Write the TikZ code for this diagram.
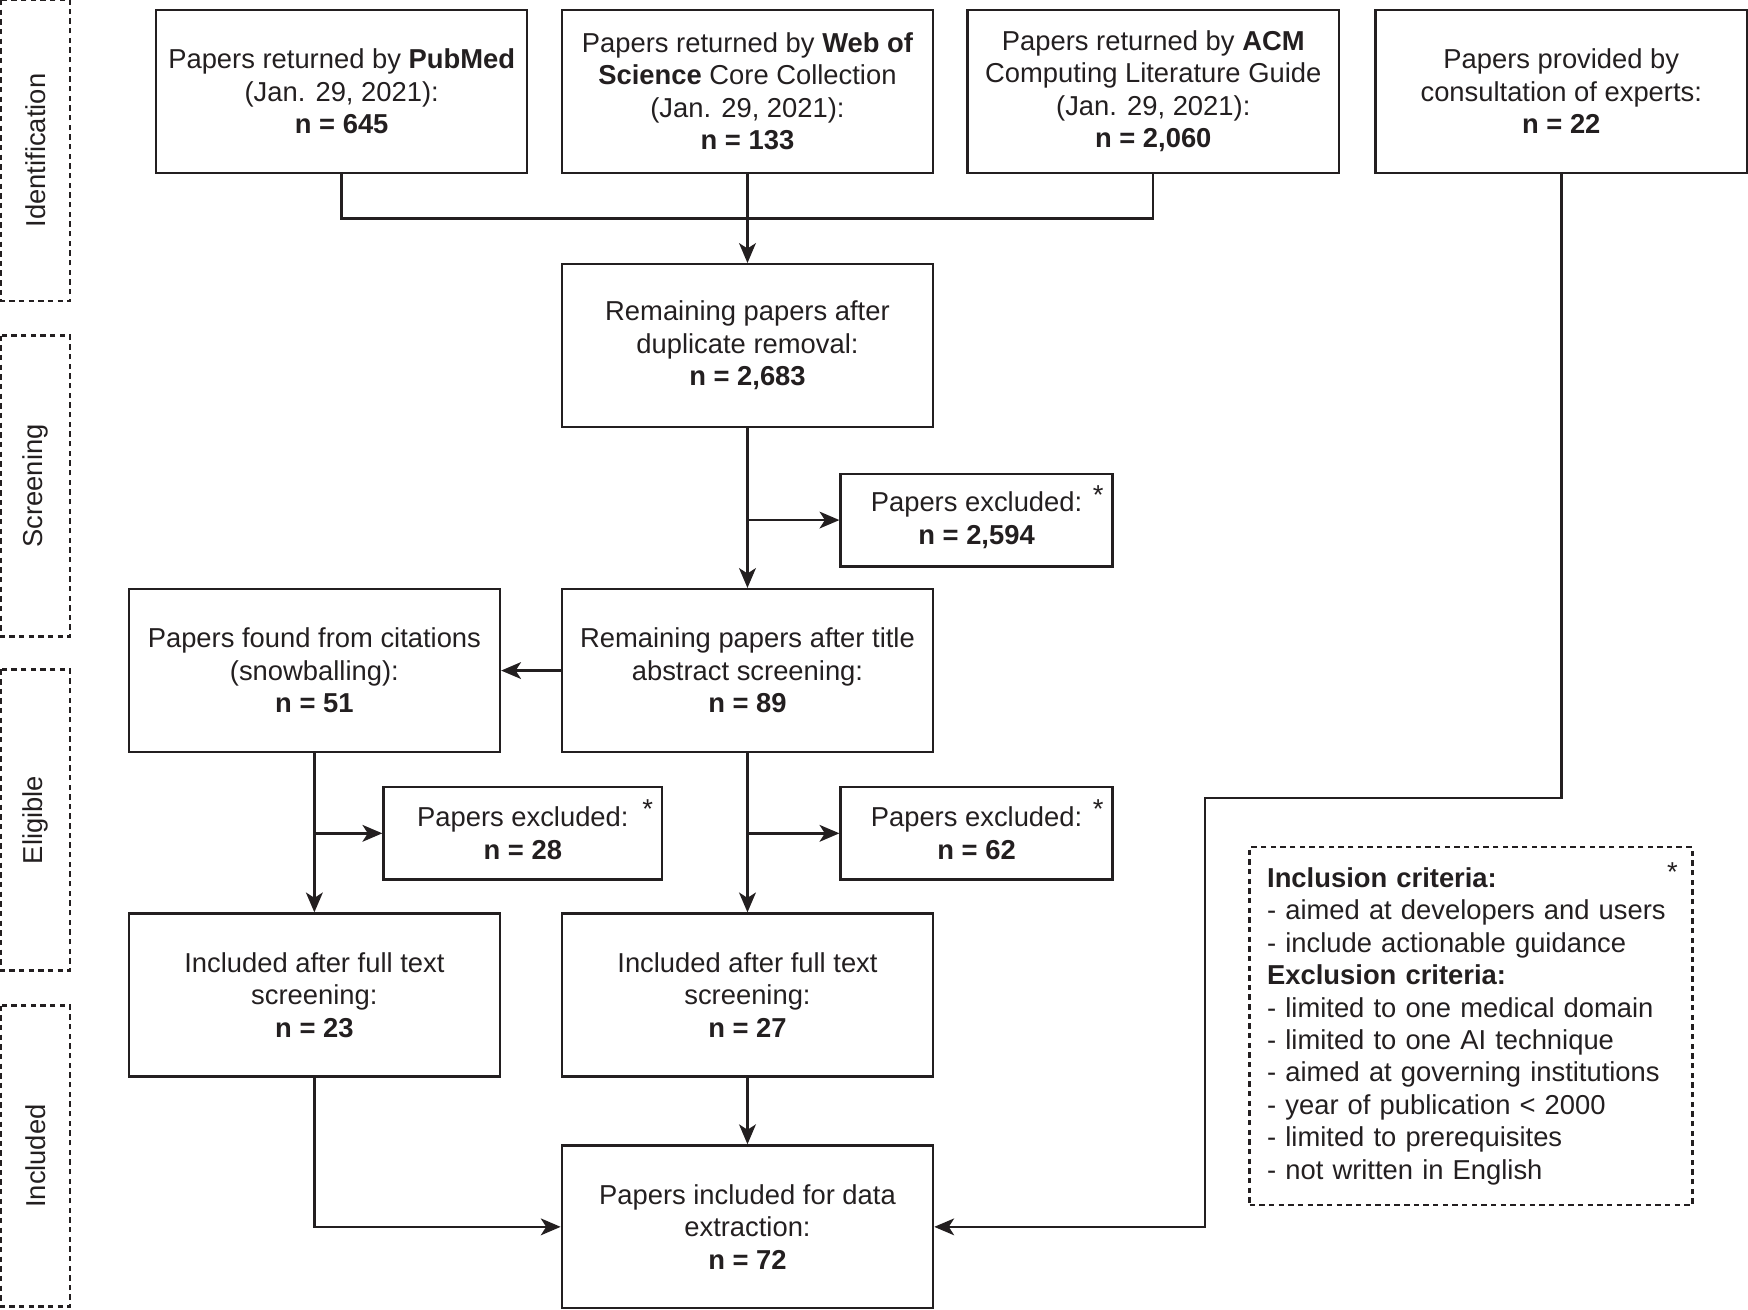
\documentclass[tikz,border=0pt]{standalone}
\usepackage{fontspec}
\setmainfont{Liberation Sans}
\usetikzlibrary{arrows.meta}
\definecolor{ink}{RGB}{35,31,32}

\begin{document}
\begin{tikzpicture}[x=0.0146cm,y=-0.0146cm,
  every node/.style={font=\fontsize{10.2}{12.1}\selectfont,text=ink},
  box/.style={draw=ink,line width=0.9pt,minimum width=4.862cm,minimum height=2.132cm,align=center,inner sep=0pt},
  exbox/.style={draw=ink,line width=0.9pt,minimum width=3.562cm,minimum height=1.212cm,align=center,inner sep=0pt},
  phase/.style={draw=ink,line width=0.9pt,dash pattern=on 2pt off 1.6pt,rotate=90,minimum width=3.942cm,minimum height=0.905cm,inner sep=0pt},
  crit/.style={draw=ink,line width=0.9pt,dash pattern=on 2pt off 1.6pt,minimum width=5.8cm,minimum height=4.69cm,text width=5.34cm,align=left,inner xsep=0.23cm},
  star/.style={anchor=base,inner sep=0pt},
  link/.style={draw=ink,line width=0.9pt},
  arr/.style={link,-{Stealth[length=2.6mm,width=2.2mm,inset=0.7mm]}}]

\useasboundingbox (0,0) rectangle (1568,1175);

\node [phase] (ident) at (32,135) {Identification};
\node [phase] (screen) at (32,436) {Screening};
\node [phase] (elig) at (32,735.5) {Eligible};
\node [phase] (incl) at (32,1037) {Included};

\node [box] (pubmed) at (306.5,82) {Papers returned by \textbf{PubMed}\\(Jan. 29, 2021):\\\textbf{n = 645}};
\node [box] (wos) at (670.5,82) {Papers returned by \textbf{Web of}\\\textbf{Science} Core Collection\\(Jan. 29, 2021):\\\textbf{n = 133}};
\node [box] (acm) at (1034.5,82) {Papers returned by \textbf{ACM}\\Computing Literature Guide\\(Jan. 29, 2021):\\\textbf{n = 2,060}};
\node [box] (experts) at (1400.5,82) {Papers provided by\\consultation of experts:\\\textbf{n = 22}};

\node [box] (dedup) at (670.5,310) {Remaining papers after\\duplicate removal:\\\textbf{n = 2,683}};
\node [exbox] (exa) at (876,466.5) {Papers excluded:\\\textbf{n = 2,594}};
\node [box] (title) at (670.5,601.5) {Remaining papers after title\\abstract screening:\\\textbf{n = 89}};
\node [box] (snow) at (282,601.5) {Papers found from citations\\(snowballing):\\\textbf{n = 51}};
\node [exbox,minimum width=3.65cm] (exb) at (469,747.5) {Papers excluded:\\\textbf{n = 28}};
\node [exbox] (exc) at (876,747.5) {Papers excluded:\\\textbf{n = 62}};
\node [box] (fulla) at (282,892.5) {Included after full text\\screening:\\\textbf{n = 23}};
\node [box] (fullb) at (670.5,892.5) {Included after full text\\screening:\\\textbf{n = 27}};
\node [box] (data) at (670.5,1100.5) {Papers included for data\\extraction:\\\textbf{n = 72}};

\node [star] (stara) at ([shift={(-14,29)}]exa.north east) {*};
\node [star] (starb) at ([shift={(-14,29)}]exb.north east) {*};
\node [star] (starc) at ([shift={(-14,29)}]exc.north east) {*};

\node [crit] (criteria) at (1319.5,920.5) {\textbf{Inclusion criteria:}\\- aimed at developers and users\\- include actionable guidance\\\textbf{Exclusion criteria:}\\- limited to one medical domain\\- limited to one AI technique\\- aimed at governing institutions\\- year of publication < 2000\\- limited to prerequisites\\- not written in English};
\node [star] (stard) at ([shift={(-19,32)}]criteria.north east) {*};

\coordinate (join) at (670.5,196);
\coordinate (bend) at (1081,716);

\draw [link] (pubmed.south) |- (join) -| (acm.south);
\draw [arr] (wos.south) -- (dedup.north);
\draw [arr] (dedup.south) -- (title.north);
\draw [arr] (dedup.south |- exa.west) -- (exa.west);
\draw [arr] (title.west) -- (snow.east);
\draw [arr] (snow.south) -- (fulla.north);
\draw [arr] (snow.south |- exb.west) -- (exb.west);
\draw [arr] (title.south) -- (fullb.north);
\draw [arr] (title.south |- exc.west) -- (exc.west);
\draw [arr] (fullb.south) -- (data.north);
\draw [arr] (fulla.south) |- (data.west);
\draw [arr] (experts.south) |- (bend) |- (data.east);
\end{tikzpicture}
\end{document}
